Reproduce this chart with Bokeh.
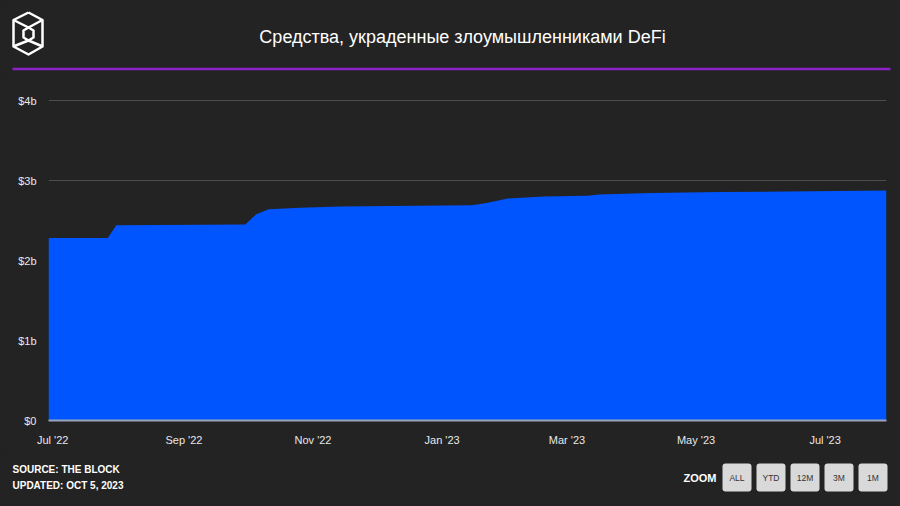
import pandas as pd
import bokeh.models
import bokeh.plotting
from bokeh.core.properties import value
from bokeh.embed import file_html
from bokeh.resources import INLINE

# values (USD billions, cumulative)
dates = ["2022-06-29", "2022-07-27", "2022-07-31", "2022-09-30", "2022-10-05",
         "2022-10-11", "2022-10-26", "2022-11-14", "2023-01-15", "2023-01-22",
         "2023-02-01", "2023-02-18", "2023-03-11", "2023-03-16", "2023-04-10",
         "2023-05-13", "2023-07-30"]
stolen_b = [2.28, 2.28, 2.44, 2.45, 2.575, 2.64, 2.66, 2.675, 2.69, 2.72,
            2.775, 2.80, 2.81, 2.825, 2.845, 2.855, 2.875]

tick_dates = ["2022-07-01", "2022-09-01", "2022-11-01", "2023-01-01",
              "2023-03-01", "2023-05-01", "2023-07-01"]
y_ticks = [0, 1, 2, 3, 4]
y_labels = ["$0", "$1b", "$2b", "$3b", "$4b"]
zoom_labels = ["ALL", "YTD", "12M", "3M", "1M"]

title_text = "Средства, украденные злоумышленниками DeFi"
source_text = "SOURCE: THE BLOCK"
updated_text = "UPDATED: OCT 5, 2023"

BG = "#232323"
FONT = "Liberation Sans"
W = 900


def blank_figure(height):
    # a figure whose frame is the whole canvas, y counted downwards in px
    f = bokeh.plotting.figure(
        width=W, height=height,
        x_range=bokeh.models.Range1d(0, W),
        y_range=bokeh.models.Range1d(height, 0),
        x_axis_type=None, y_axis_type=None,
        toolbar_location=None, output_backend="svg",
        min_border=0,
    )
    f.grid.visible = False
    f.outline_line_color = None
    f.background_fill_color = BG
    f.border_fill_color = BG
    return f


# Header: logo, title, purple rule
header = blank_figure(72)
outer_x = [28, 42, 42, 28, 13, 13, 28]
outer_y = [12, 19.5, 46, 54, 46, 19.5, 12]
inner_x = [28, 33, 33, 28, 23, 23, 28]
inner_y = [27, 30, 37, 40, 37, 30, 27]
header.multi_line(
    xs=[outer_x, inner_x, [14, 28, 41], [14, 28, 41]],
    ys=[outer_y, inner_y, [20, 27, 20], [45.5, 40, 45.5]],
    line_color="white", line_width=2.5, line_join="round",
)
header.text(x=[462], y=[36], text=[title_text], text_color="white",
            text_font=value(FONT), text_font_size="18px",
            text_align="center", text_baseline="middle")
header.segment(x0=[12], y0=[68.5], x1=[890], y1=[68.5],
               line_color="#8a22c8", line_width=2.5)

# Main chart
x = pd.to_datetime(dates)
source = bokeh.models.ColumnDataSource(dict(dt=x, value=stolen_b))

p = bokeh.plotting.figure(
    width=W, height=378,
    x_axis_type="datetime",
    x_range=bokeh.models.Range1d(x[0], x[-1]),
    y_range=bokeh.models.Range1d(0, 4.2),
    toolbar_location=None, output_backend="svg",
    min_border_left=48, min_border_right=14,
    min_border_top=12, min_border_bottom=30,
)
p.background_fill_color = BG
p.border_fill_color = BG
p.outline_line_color = None

p.varea(x="dt", y1=0, y2="value", source=source, fill_color="#0055ff")

p.xgrid.grid_line_color = None
p.ygrid.grid_line_color = "#4e4e4e"
p.ygrid.ticker = bokeh.models.FixedTicker(ticks=y_ticks)

p.yaxis.ticker = bokeh.models.FixedTicker(ticks=y_ticks)
p.yaxis.major_label_overrides = dict(zip(y_ticks, y_labels))
p.yaxis.axis_line_color = None
p.yaxis.major_label_standoff = 12

tick_ms = [pd.Timestamp(d).timestamp() * 1000 for d in tick_dates]
p.xaxis.ticker = bokeh.models.FixedTicker(ticks=tick_ms)
p.xaxis.formatter = bokeh.models.DatetimeTickFormatter(
    days="%b '%y", months="%b '%y", years="%b '%y")
p.xaxis.axis_line_color = "#9aa6bc"
p.xaxis.axis_line_width = 2
p.xaxis.major_label_standoff = 13

for ax in (p.xaxis, p.yaxis):
    ax.major_tick_line_color = None
    ax.minor_tick_line_color = None
    ax.major_tick_out = 0
    ax.major_tick_in = 0
    ax.minor_tick_out = 0
    ax.major_label_text_color = "#e8e8e8"
    ax.major_label_text_font = FONT
    ax.major_label_text_font_size = "11px"

# Footer: source note and zoom buttons
footer = blank_figure(56)
footer.text(x=[12, 12], y=[19, 35], text=[source_text, updated_text],
            text_color="white", text_font=value(FONT), text_font_size="10px",
            text_font_style="bold", text_baseline="middle")
footer.text(x=[716], y=[27], text=["ZOOM"], text_color="white",
            text_font=value(FONT), text_font_size="11px",
            text_font_style="bold", text_align="right", text_baseline="middle")
lefts = [722 + 34 * i for i in range(len(zoom_labels))]
footer.quad(left=lefts, right=[l + 29 for l in lefts], top=13, bottom=41,
            fill_color="#d9d9d9", line_color=None, border_radius=3)
footer.text(x=[l + 14.5 for l in lefts], y=27, text=zoom_labels,
            text_color="#333333", text_font=value(FONT), text_font_size="8.5px",
            text_align="center", text_baseline="middle")

html = file_html([header, p, footer], INLINE)
html = html.replace("<body>", '<body style="background:%s">' % BG)
open("out.html", "w").write(html)
